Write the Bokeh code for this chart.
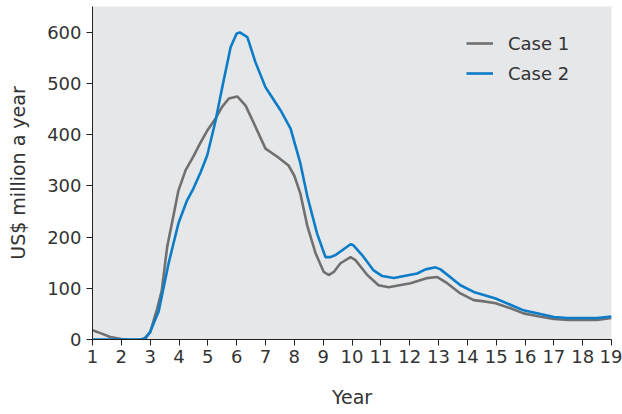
from bokeh.plotting import figure
from bokeh.models import Range1d, FixedTicker, Legend, LegendItem
from bokeh.embed import file_html
from bokeh.resources import INLINE

# Data
case1_x = [1.0, 1.3, 1.62, 2.0, 2.3, 2.6, 2.8, 3.0, 3.24, 3.4, 3.59, 3.8, 3.98, 4.23, 4.5, 4.75,
           5.0, 5.27, 5.5, 5.73, 6.02, 6.31, 6.6, 7.0, 7.41, 7.8, 8.0, 8.21, 8.45, 8.74, 9.02,
           9.19, 9.37, 9.6, 9.95, 10.12, 10.53, 10.92, 11.27, 12.03, 12.61, 12.96, 13.3, 13.76,
           14.22, 14.52, 14.98, 15.5, 15.95, 16.5, 17.0, 17.5, 18.5, 19.0]
case1_y = [18, 12, 5, 1, -1, -1, 2, 14, 60, 95, 181, 240, 291, 331, 358, 385,
           410, 432, 455, 471, 475, 457, 422, 373, 357, 340, 320, 285, 222, 168, 132,
           126, 132, 149, 161, 155, 126, 106, 102, 110, 120, 122, 110, 90,
           77, 75, 71, 61, 51, 45, 40, 38, 38, 42]

case2_x = [1.0, 2.7, 2.85, 3.0, 3.29, 3.64, 3.98, 4.28, 4.5, 4.75, 4.98, 5.27, 5.5, 5.79, 6.0,
           6.11, 6.37, 6.65, 7.0, 7.52, 7.87, 8.21, 8.45, 8.79, 9.08, 9.25, 9.43, 9.95, 10.05,
           10.35, 10.75, 11.05, 11.45, 12.26, 12.55, 12.9, 13.07, 13.76, 14.22, 14.98, 15.95,
           17.0, 17.46, 18.5, 19.0]
case2_y = [0, 0, 3, 15, 54, 149, 227, 272, 295, 327, 360, 428, 493, 571, 598,
           600, 591, 542, 493, 448, 412, 344, 280, 207, 161, 161, 165, 186, 184,
           165, 135, 124, 120, 129, 137, 141, 137, 106, 93, 80, 57,
           44, 42, 42, 45]

x_ticks = list(range(1, 20))
y_ticks = [0, 100, 200, 300, 400, 500, 600]
series_names = ["Case 1", "Case 2"]

FONT = "DejaVu Sans"
TXT = "#333333"

p = figure(width=622, height=414, output_backend="svg", toolbar_location=None,
           x_range=Range1d(1, 19), y_range=Range1d(0, 650.7),
           min_border_left=92, min_border_right=11, min_border_top=6, min_border_bottom=75)
p.background_fill_color = "#e6e7e9"
p.border_fill_color = "white"
p.outline_line_color = None
p.xgrid.grid_line_color = None
p.ygrid.grid_line_color = None

r1 = p.line(case1_x, case1_y, line_color="#707070", line_width=2.6)
r2 = p.line(case2_x, case2_y, line_color="#0a7cc8", line_width=2.6)

for ax in (p.xaxis[0], p.yaxis[0]):
    ax.axis_line_color = "#222222"
    ax.axis_line_width = 1
    ax.major_tick_line_color = "#222222"
    ax.major_tick_in = 0
    ax.major_tick_out = 6
    ax.minor_tick_line_color = None
    ax.major_label_text_font = FONT
    ax.major_label_text_font_size = "18px"
    ax.major_label_text_color = TXT
    ax.axis_label_text_font = FONT
    ax.axis_label_text_font_size = "19px"
    ax.axis_label_text_color = TXT
    ax.axis_label_text_font_style = "normal"

p.xaxis[0].ticker = FixedTicker(ticks=x_ticks)
p.yaxis[0].ticker = FixedTicker(ticks=y_ticks)
p.xaxis[0].axis_label = "Year"
p.yaxis[0].axis_label = "US$ million a year"
p.xaxis[0].major_label_standoff = 4
p.yaxis[0].major_label_standoff = 5
p.xaxis[0].axis_label_standoff = 20
p.yaxis[0].axis_label_standoff = 15

legend = Legend(items=[LegendItem(label=series_names[0], renderers=[r1]),
                       LegendItem(label=series_names[1], renderers=[r2])],
                location=(374, 254))
legend.background_fill_alpha = 0
legend.border_line_color = None
legend.padding = 0
legend.spacing = 6
legend.glyph_width = 27
legend.glyph_height = 24
legend.label_height = 24
legend.label_standoff = 15
legend.label_text_font = FONT
legend.label_text_font_size = "18px"
legend.label_text_color = TXT
p.add_layout(legend)

open("out.html", "w").write(file_html(p, INLINE))
